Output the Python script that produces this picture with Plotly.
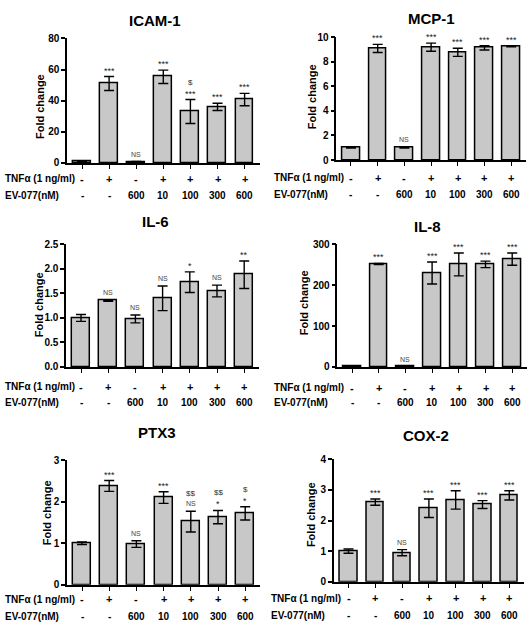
import plotly.graph_objects as go

W, H = 529, 630

# ---------------- data ----------------
tnf_labels = ["-", "+", "-", "+", "+", "+", "+"]
ev_labels = ["-", "-", "600", "10", "100", "300", "600"]

icam_vals = [1.0, 51.0, 0.6, 55.3, 33.0, 36.0, 40.7]
icam_err = [0.3, 4.5, 0.3, 4.3, 7.7, 2.3, 4.0]
icam_sig = ["", "***", "NS", "***", "***", "***", "***"]
icam_sig2 = ["", "", "", "", "$", "", ""]

mcp_vals = [1.0, 9.1, 1.0, 9.2, 8.78, 9.15, 9.28]
mcp_err = [0.03, 0.33, 0.03, 0.33, 0.33, 0.18, 0.04]
mcp_sig = ["", "***", "NS", "***", "***", "***", "***"]
mcp_sig2 = ["", "", "", "", "", "", ""]

il6_vals = [1.0, 1.35, 0.98, 1.4, 1.73, 1.55, 1.88]
il6_err = [0.07, 0.01, 0.08, 0.25, 0.21, 0.12, 0.28]
il6_sig = ["", "NS", "NS", "NS", "*", "NS", "**"]
il6_sig2 = ["", "", "", "", "", "", ""]

il8_vals = [1.0, 252.0, 1.0, 230.0, 251.0, 251.0, 264.0]
il8_err = [0.0, 1.5, 0.0, 27.0, 28.0, 8.0, 15.0]
il8_sig = ["", "***", "NS", "***", "***", "***", "***"]
il8_sig2 = ["", "", "", "", "", "", ""]

ptx_vals = [1.0, 2.38, 0.98, 2.1, 1.52, 1.63, 1.72]
ptx_err = [0.03, 0.13, 0.08, 0.14, 0.25, 0.16, 0.16]
ptx_sig = ["", "***", "NS", "***", "NS", "*", "*"]
ptx_sig2 = ["", "", "", "", "$$", "$$", "$"]

cox_vals = [1.0, 2.6, 0.95, 2.4, 2.67, 2.52, 2.82]
cox_err = [0.07, 0.1, 0.1, 0.3, 0.3, 0.13, 0.15]
cox_sig = ["", "***", "NS", "***", "***", "***", "***"]
cox_sig2 = ["", "", "", "", "", "", ""]

titles = ["ICAM-1", "MCP-1", "IL-6", "IL-8", "PTX3", "COX-2"]
y_ranges = [[0, 80], [0, 10], [0, 2.5], [0, 300], [0, 3], [0, 4]]
y_ticks = [[0, 20, 40, 60, 80], [0, 2, 4, 6, 8, 10], [0, 0.5, 1.0, 1.5, 2.0, 2.5],
           [0, 100, 200, 300], [0, 1, 2, 3], [0, 1, 2, 3, 4]]
y_fmt = ["", "", ".1f", "", "", ""]

panels_data = [
    (icam_vals, icam_err, icam_sig, icam_sig2),
    (mcp_vals, mcp_err, mcp_sig, mcp_sig2),
    (il6_vals, il6_err, il6_sig, il6_sig2),
    (il8_vals, il8_err, il8_sig, il8_sig2),
    (ptx_vals, ptx_err, ptx_sig, ptx_sig2),
    (cox_vals, cox_err, cox_sig, cox_sig2),
]

# ---------------- layout geometry (pixels) ----------------
# (first bar center, spacing, y-top px, y-bottom px)
geom = [
    (82.0, 27.1, 33, 160),
    (351.0, 26.7, 32, 157),
    (81.0, 27.2, 243, 368),
    (352.0, 26.7, 243, 368),
    (82.0, 27.2, 463, 590),
    (348.5, 26.8, 462, 587),
]
title_pos = [(155, 15), (431, 13), (155, 220), (427, 225), (157, 435), (426, 438)]
ytitle_pos = [(40, 103), (312, 93), (39, 305), (304, 303), (47, 517), (311, 519)]
row_y = [(176, 193), (175, 192), (388, 404), (389, 404), (605, 622), (604, 621)]
row_label_x = [3, 272, 3, 272, 3, 269]

XR = [-0.55, 6.55]

def px(x):
    return x / W

def py(y):
    return 1 - y / H

fig = go.Figure()
annotations = []
BOLD = dict(family="Liberation Sans, Arial, sans-serif", color="black", weight="bold")
PLAIN = "Liberation Sans, Arial, sans-serif"

for i, ((vals, errs, sigs, sigs2), (c0, s, yt, yb)) in enumerate(zip(panels_data, geom)):
    n = i + 1
    xa = "x" if n == 1 else f"x{n}"
    ya = "y" if n == 1 else f"y{n}"
    xs = list(range(len(vals)))
    fig.add_trace(go.Bar(
        x=xs, y=vals, xaxis=xa, yaxis=ya, width=0.66,
        marker=dict(color="#c8c8c8", line=dict(color="black", width=1.5)),
        error_y=dict(type="data", array=errs, visible=True, color="black",
                     thickness=1.4, width=5),
        showlegend=False, hoverinfo="skip",
    ))
    left = c0 + XR[0] * s
    right = c0 + XR[1] * s
    xkey = "xaxis" if n == 1 else f"xaxis{n}"
    ykey = "yaxis" if n == 1 else f"yaxis{n}"
    fig.layout[xkey] = dict(
        domain=[px(left), px(right)], range=XR, anchor=ya,
        showline=True, linecolor="black", linewidth=1.5,
        tickmode="array", tickvals=xs, ticks="outside", ticklen=4,
        tickwidth=1.3, tickcolor="black", showticklabels=False,
        showgrid=False, zeroline=False, fixedrange=True,
    )
    yd = dict(
        domain=[py(yb), py(yt)], range=y_ranges[i], anchor=xa,
        showline=True, linecolor="black", linewidth=1.5,
        tickmode="array", tickvals=y_ticks[i], ticks="outside", ticklen=4,
        tickwidth=1.5, tickcolor="black",
        tickfont=dict(size=10, **BOLD),
        showgrid=False, zeroline=False, fixedrange=True,
    )
    if y_fmt[i]:
        yd["tickformat"] = y_fmt[i]
    fig.layout[ykey] = yd

    # panel title
    tx, ty = title_pos[i]
    annotations.append(dict(x=px(tx), y=py(ty), xref="paper", yref="paper",
                            text=titles[i], showarrow=False, xanchor="center",
                            yanchor="middle", font=dict(size=15, **BOLD)))
    # y title
    yx, yy = ytitle_pos[i]
    annotations.append(dict(x=px(yx), y=py(yy), xref="paper", yref="paper",
                            text="Fold change", showarrow=False, textangle=-90,
                            xanchor="center", yanchor="middle",
                            font=dict(size=11, **BOLD)))
    # significance labels
    for k, (v, e, sg, sg2) in enumerate(zip(vals, errs, sigs, sigs2)):
        if sg:
            is_ns = sg == "NS"
            annotations.append(dict(x=k, y=v + e, xref=xa, yref=ya, text=sg,
                                    showarrow=False, xanchor="center", yanchor="bottom",
                                    yshift=(2 if is_ns else -1),
                                    font=dict(family=PLAIN, size=(7 if is_ns else 9),
                                              color="#444" if is_ns else "#222")))
        if sg2:
            annotations.append(dict(x=k, y=v + e, xref=xa, yref=ya, text=sg2,
                                    showarrow=False, xanchor="center", yanchor="bottom",
                                    yshift=11,
                                    font=dict(family=PLAIN, size=8, color="#333")))
    # row labels
    r1, r2 = row_y[i]
    annotations.append(dict(x=px(row_label_x[i]), y=py(r1), xref="paper", yref="paper",
                            text="TNFα (1 ng/ml)", showarrow=False, xanchor="left",
                            yanchor="middle", font=dict(size=10, **BOLD)))
    annotations.append(dict(x=px(row_label_x[i]), y=py(r2), xref="paper", yref="paper",
                            text="EV-077(nM)", showarrow=False, xanchor="left",
                            yanchor="middle", font=dict(size=10, **BOLD)))
    for k in xs:
        annotations.append(dict(x=k, y=py(r1), xref=xa, yref="paper", text=tnf_labels[k],
                                showarrow=False, xanchor="center", yanchor="middle",
                                font=dict(size=11, **BOLD)))
        annotations.append(dict(x=k, y=py(r2), xref=xa, yref="paper", text=ev_labels[k],
                                showarrow=False, xanchor="center", yanchor="middle",
                                font=dict(size=10, **BOLD)))

fig.update_layout(
    width=W, height=H, margin=dict(l=0, r=0, t=0, b=0),
    paper_bgcolor="white", plot_bgcolor="white",
    annotations=annotations, bargap=0,
)

fig.write_html("out.html")
